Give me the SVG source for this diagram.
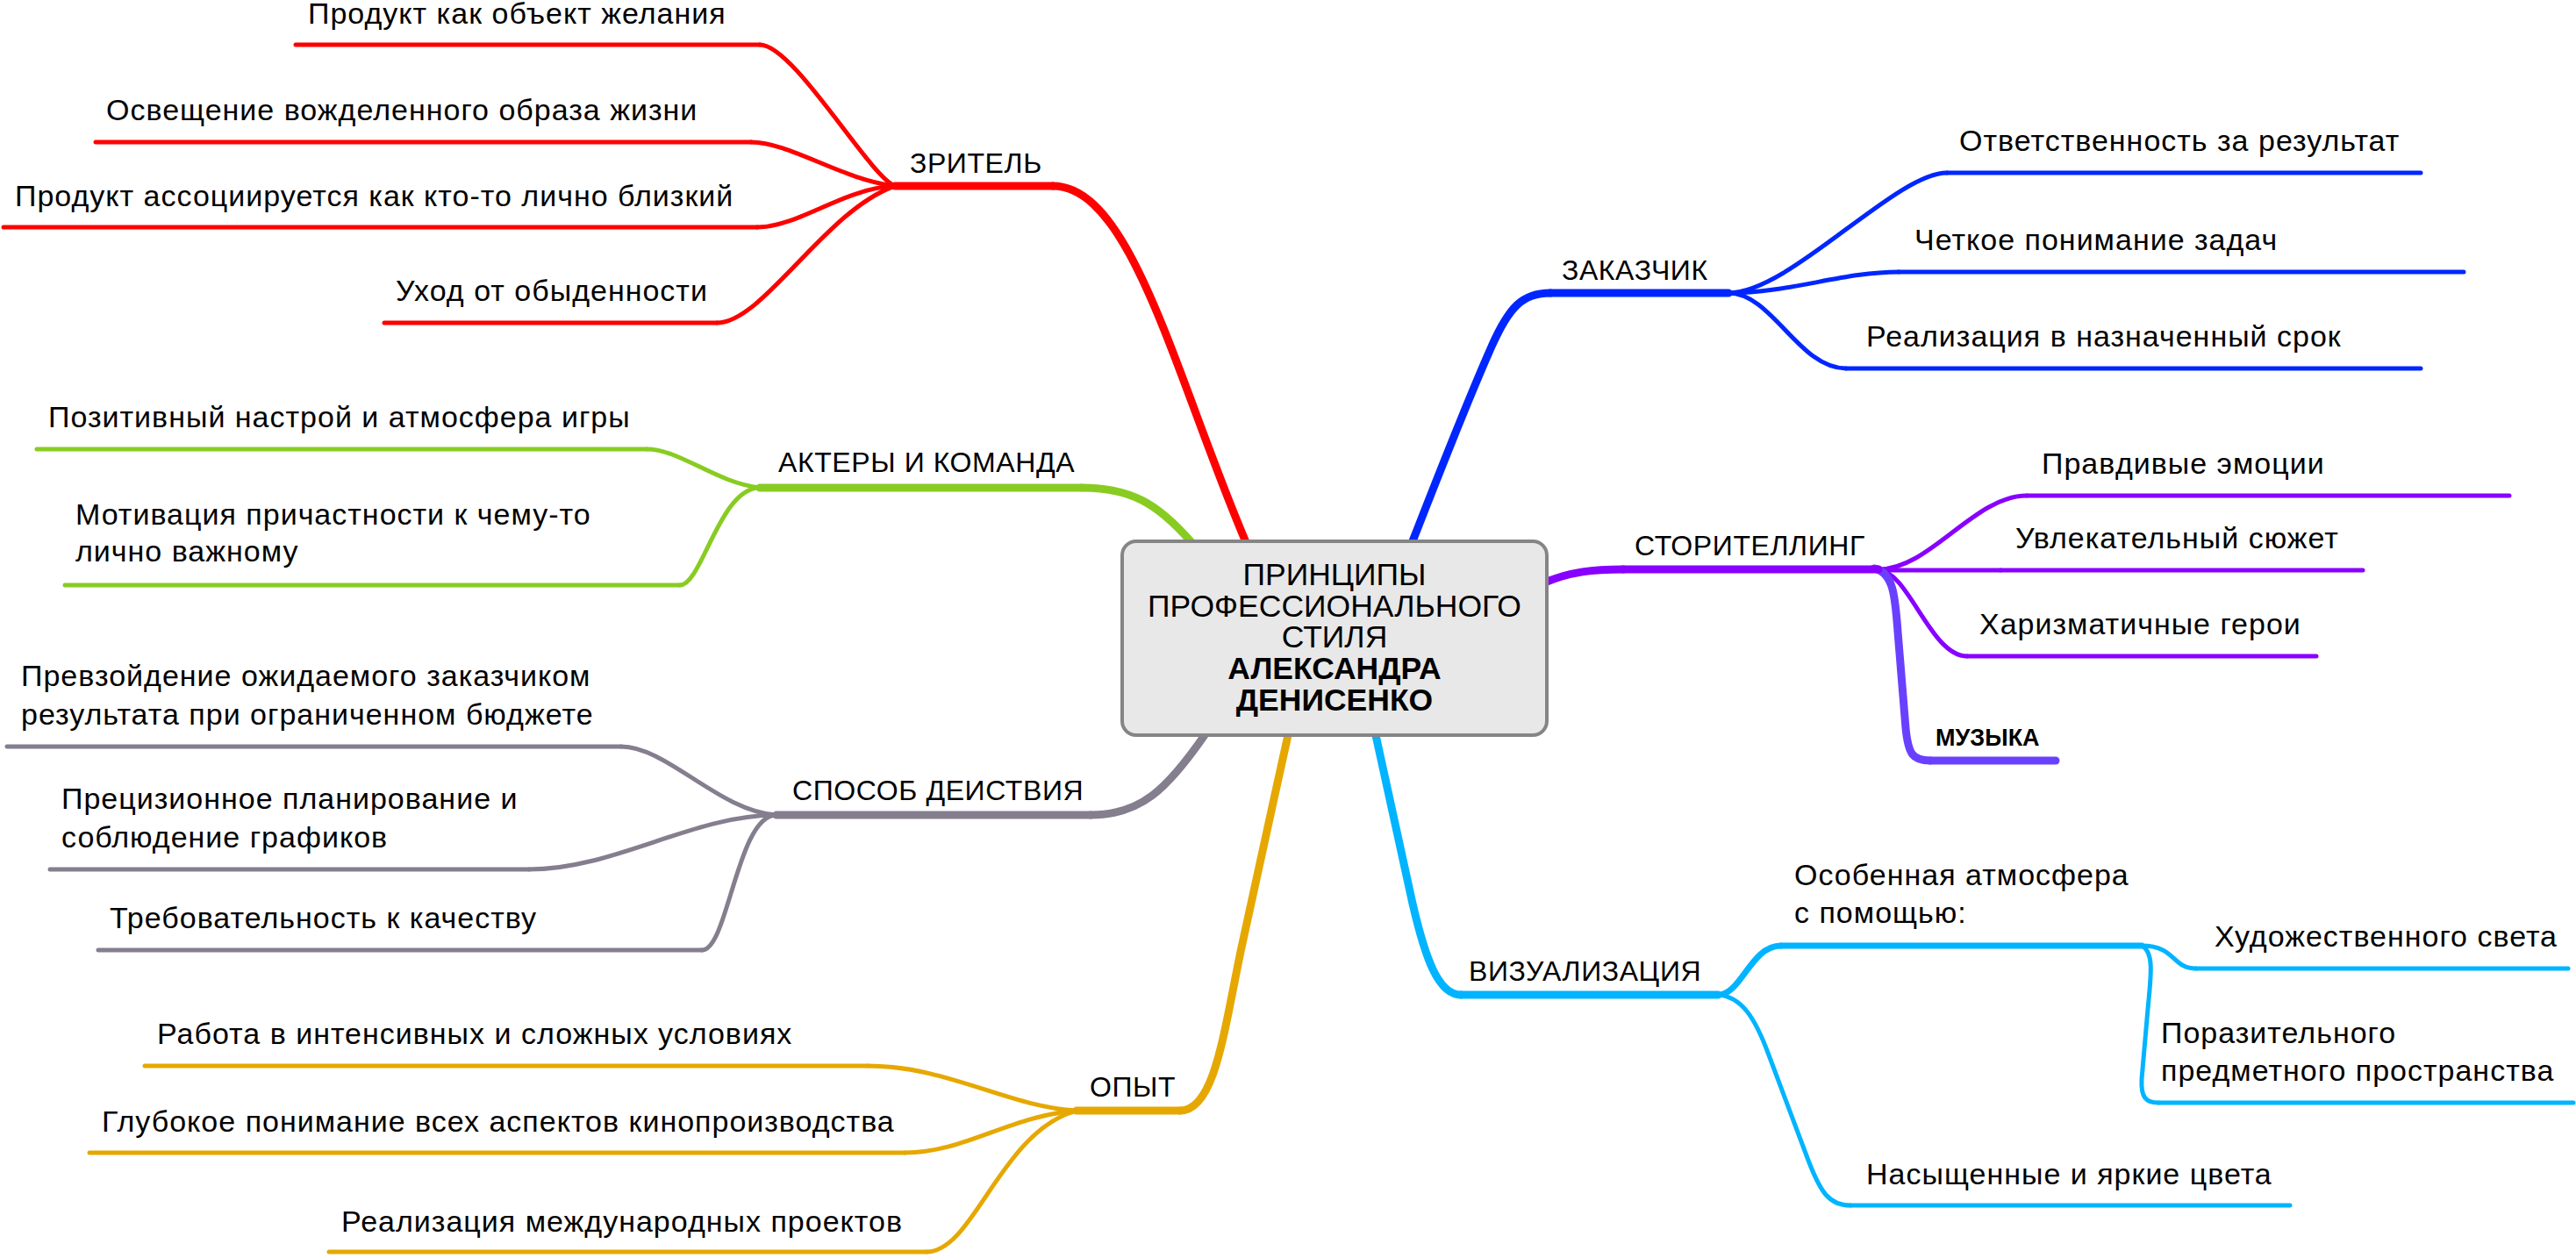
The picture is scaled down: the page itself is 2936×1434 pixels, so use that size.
<svg xmlns="http://www.w3.org/2000/svg" width="2936" height="1434" viewBox="0 0 2936 1434">
<style>
text{font-family:"Liberation Sans",Arial,Helvetica,sans-serif;fill:#000}
.t{font-size:34px;letter-spacing:1px}
.l{font-size:32px;letter-spacing:0.6px}
.c{font-size:35.5px;text-anchor:middle}
.b{font-weight:bold}
path{fill:none;stroke-linecap:round;stroke-linejoin:round}
.m{stroke-width:9}
.s{stroke-width:5}
.s7{stroke-width:7}
.red{stroke:#ff0000}
.grn{stroke:#88cc22}
.gry{stroke:#847e8e}
.org{stroke:#e6a800}
.blu{stroke:#0026ff}
.pur{stroke:#8800ff}
.mus{stroke:#6a40ff}
.cya{stroke:#00b4ff}
</style>
<rect width="2936" height="1434" fill="#ffffff"/>
<g id="connectors">
<path class="m red" d="M1420 618 C1340 430 1290 212 1200 212"/>
<path class="s red" d="M866 51 C905 51 990 200 1020 212"/>
<path class="s red" d="M856 162 C900 162 960 205 1020 212"/>
<path class="s red" d="M863 259 C910 259 960 215 1020 212"/>
<path class="s red" d="M817 368 C870 368 940 240 1020 212"/>
<path class="m grn" d="M1357 617 C1320 575 1290 556 1233 556"/>
<path class="s grn" d="M737 512 C775 512 815 550 866 556"/>
<path class="s grn" d="M775 667 C800 667 820 556 866 556"/>
<path class="m gry" d="M1373 838 C1330 900 1300 929 1243 929"/>
<path class="s gry" d="M708 851 C760 851 820 925 885 929"/>
<path class="s gry" d="M603 991 C700 991 790 929 885 929"/>
<path class="s gry" d="M800 1083 C830 1083 840 929 885 929"/>
<path class="m org" d="M1468 838 C1450 920 1430 1010 1415 1080 C1395 1175 1385 1266 1345 1266"/>
<path class="s org" d="M989 1215 C1080 1215 1150 1262 1227 1266"/>
<path class="s org" d="M1031 1314 C1100 1314 1150 1272 1227 1266"/>
<path class="s org" d="M1056 1427 C1110 1427 1140 1290 1227 1266"/>
<path class="m blu" d="M1610 617 C1640 540 1680 440 1700 395 C1720 350 1735 334 1767 334"/>
<path class="s blu" d="M1970 334 C2040 334 2160 197 2219 197"/>
<path class="s blu" d="M1970 334 C2040 334 2100 310 2164 310"/>
<path class="s blu" d="M1970 334 C2020 334 2050 420 2104 420"/>
<path class="m pur" d="M1763 663 C1790 652 1815 649 1850 649"/>
<path class="s pur" d="M2141 649 C2200 649 2250 565 2310 565"/>
<path class="s pur" d="M2141 650 L2280 650"/>
<path class="s pur" d="M2141 650 C2175 650 2200 748 2242 748"/>
<path class="m mus" d="M2136 648 C2158 652 2160 680 2163 720 L2172 830 C2175 860 2180 867 2200 867"/>
<path class="m cya" d="M1568 838 L1610 1030 C1625 1095 1640 1134 1665 1134"/>
<path class="s7 cya" d="M1958 1134 C1985 1134 1995 1078 2030 1078"/>
<path class="s cya" d="M2441 1078 C2480 1078 2475 1104 2503 1104"/>
<path class="s cya" d="M2441 1078 C2455 1085 2452 1110 2448 1150 L2441 1230 C2440 1250 2445 1257 2460 1257"/>
<path class="s cya" d="M1958 1134 C1985 1136 2000 1160 2015 1200 L2060 1320 C2075 1360 2085 1374 2109 1374"/>
</g>
<g id="root">
<rect x="1279" y="617" width="484" height="221" rx="16" fill="#e8e8e8" stroke="#858585" stroke-width="4"/>
<text class="c" x="1521" y="667">ПРИНЦИПЫ</text>
<text class="c" x="1521" y="703">ПРОФЕССИОНАЛЬНОГО</text>
<text class="c" x="1521" y="738">СТИЛЯ</text>
<text class="c b" x="1521" y="774">АЛЕКСАНДРА</text>
<text class="c b" x="1521" y="810">ДЕНИСЕНКО</text>
</g>
<g id="zritel"><path class="m red" d="M1200 212 L1020 212"/><text class="l" x="1037" y="197">ЗРИТЕЛЬ</text></g>
<g id="zritel-1"><path class="s red" d="M337 51 L866 51"/><text class="t" x="351" y="27">Продукт как объект желания</text></g>
<g id="zritel-2"><path class="s red" d="M109 162 L856 162"/><text class="t" x="121" y="137">Освещение вожделенного образа жизни</text></g>
<g id="zritel-3"><path class="s red" d="M4 259 L863 259"/><text class="t" x="17" y="235">Продукт ассоциируется как кто-то лично близкий</text></g>
<g id="zritel-4"><path class="s red" d="M438 368 L817 368"/><text class="t" x="451" y="343">Уход от обыденности</text></g>
<g id="aktery"><path class="m grn" d="M1233 556 L866 556"/><text class="l" x="887" y="538">АКТЕРЫ И КОМАНДА</text></g>
<g id="aktery-1"><path class="s grn" d="M42 512 L737 512"/><text class="t" x="55" y="487">Позитивный настрой и атмосфера игры</text></g>
<g id="aktery-2"><path class="s grn" d="M74 667 L775 667"/><text class="t" x="86" y="598">Мотивация причастности к чему-то</text><text class="t" x="86" y="640">лично важному</text></g>
<g id="sposob"><path class="m gry" d="M1243 929 L885 929"/><text class="l" x="903" y="912">СПОСОБ ДЕИСТВИЯ</text></g>
<g id="sposob-1"><path class="s gry" d="M8 851 L708 851"/><text class="t" x="24" y="782">Превзойдение ожидаемого заказчиком</text><text class="t" x="24" y="826">результата при ограниченном бюджете</text></g>
<g id="sposob-2"><path class="s gry" d="M57 991 L603 991"/><text class="t" x="70" y="922">Прецизионное планирование и</text><text class="t" x="70" y="966">соблюдение графиков</text></g>
<g id="sposob-3"><path class="s gry" d="M112 1083 L800 1083"/><text class="t" x="125" y="1058">Требовательность к качеству</text></g>
<g id="opyt"><path class="m org" d="M1345 1266 L1227 1266"/><text class="l" x="1242" y="1250">ОПЫТ</text></g>
<g id="opyt-1"><path class="s org" d="M165 1215 L989 1215"/><text class="t" x="179" y="1190">Работа в интенсивных и сложных условиях</text></g>
<g id="opyt-2"><path class="s org" d="M102 1314 L1031 1314"/><text class="t" x="116" y="1290">Глубокое понимание всех аспектов кинопроизводства</text></g>
<g id="opyt-3"><path class="s org" d="M375 1427 L1056 1427"/><text class="t" x="389" y="1404">Реализация международных проектов</text></g>
<g id="zakazchik"><path class="m blu" d="M1767 334 L1970 334"/><text class="l" x="1780" y="319">ЗАКАЗЧИК</text></g>
<g id="zakazchik-1"><path class="s blu" d="M2219 197 L2759 197"/><text class="t" x="2233" y="172">Ответственность за результат</text></g>
<g id="zakazchik-2"><path class="s blu" d="M2164 310 L2808 310"/><text class="t" x="2182" y="285">Четкое понимание задач</text></g>
<g id="zakazchik-3"><path class="s blu" d="M2104 420 L2759 420"/><text class="t" x="2127" y="395">Реализация в назначенный срок</text></g>
<g id="story"><path class="m pur" d="M1850 649 L2141 649"/><text class="l" x="1863" y="633">СТОРИТЕЛЛИНГ</text></g>
<g id="story-1"><path class="s pur" d="M2310 565 L2860 565"/><text class="t" x="2327" y="540">Правдивые эмоции</text></g>
<g id="story-2"><path class="s pur" d="M2280 650 L2693 650"/><text class="t" x="2297" y="625">Увлекательный сюжет</text></g>
<g id="story-3"><path class="s pur" d="M2242 748 L2640 748"/><text class="t" x="2256" y="723">Харизматичные герои</text></g>
<g id="story-4"><path class="m mus" d="M2200 867 L2343 867"/><text class="b" x="2206" y="850" font-size="27">МУЗЫКА</text></g>
<g id="vis"><path class="m cya" d="M1665 1134 L1958 1134"/><text class="l" x="1674" y="1118">ВИЗУАЛИЗАЦИЯ</text></g>
<g id="vis-1"><path class="s7 cya" d="M2030 1078 L2441 1078"/><text class="t" x="2045" y="1009">Особенная атмосфера</text><text class="t" x="2045" y="1052">с помощью:</text></g>
<g id="vis-1a"><path class="s cya" d="M2503 1104 L2927 1104"/><text class="t" x="2524" y="1079">Художественного света</text></g>
<g id="vis-1b"><path class="s cya" d="M2460 1257 L2933 1257"/><text class="t" x="2463" y="1189">Поразительного</text><text class="t" x="2463" y="1232">предметного пространства</text></g>
<g id="vis-2"><path class="s cya" d="M2109 1374 L2610 1374"/><text class="t" x="2127" y="1350">Насыщенные и яркие цвета</text></g>
</svg>
